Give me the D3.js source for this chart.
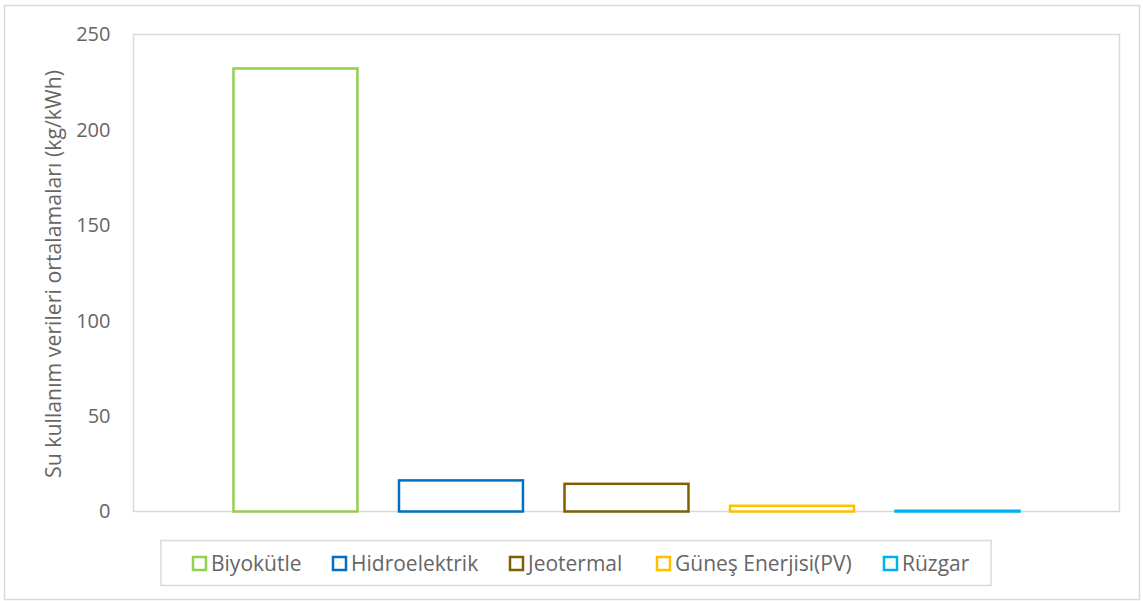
<!DOCTYPE html>
<html>
<head>
<meta charset="utf-8">
<script src="https://cdn.jsdelivr.net/npm/d3@7"></script>
<style>
  html, body { margin: 0; padding: 0; background: #fff; }
  svg { display: block; font-family: "Open Sans", "Lato", sans-serif; }
</style>
</head>
<body>
<svg id="chart" width="1143" height="601"></svg>
<script>
// Average water use per energy source (kg/kWh)
const sources = ["Biyokütle", "Hidroelektrik", "Jeotermal", "Güneş Enerjisi(PV)", "Rüzgar"];
const waterUse = [232.2, 16.3, 14.5, 3.0, 0.4];
const sourceColors = ["#92d050", "#0070c0", "#7f6000", "#ffc000", "#00b0f0"];
const yTicks = [0, 50, 100, 150, 200, 250];
const yTitle = "Su kullanım verileri ortalamaları (kg/kWh)";

const svg = d3.select("#chart");
const plot = { left: 133.5, top: 34.5, right: 1119.5, bottom: 511.5 };
const textColor = "#666666";

// Outer chart frame
svg.append("rect")
  .attr("x", 4.5).attr("y", 5.5)
  .attr("width", 1135).attr("height", 594)
  .attr("fill", "#fff").attr("stroke", "#d9d9d9").attr("stroke-width", 1.5);

// Plot area frame
svg.append("rect")
  .attr("x", plot.left).attr("y", plot.top)
  .attr("width", plot.right - plot.left).attr("height", plot.bottom - plot.top)
  .attr("fill", "none").attr("stroke", "#d9d9d9").attr("stroke-width", 1.5);

const x = d3.scaleBand()
  .domain(sources)
  .range([plot.left, plot.right])
  .paddingInner(0.251)
  .paddingOuter(0.604);

const y = d3.scaleLinear()
  .domain([0, 250])
  .range([plot.bottom, plot.top]);

// Y axis tick labels (no axis line, no ticks)
const yAxis = d3.axisLeft(y).tickValues(yTicks).tickSize(0).tickPadding(0);
const yg = svg.append("g")
  .attr("transform", `translate(${plot.left - 23},0)`)
  .call(yAxis);
yg.select(".domain").remove();
yg.selectAll("text")
  .attr("fill", textColor)
  .style("font-size", "20px")
  .style("font-family", "'Open Sans', sans-serif");

// Y axis title
svg.append("text")
  .attr("transform", `translate(61,${(plot.top + plot.bottom) / 2 + 1}) rotate(-90)`)
  .attr("text-anchor", "middle")
  .attr("fill", textColor)
  .style("font-size", "21.3px")
  .text(yTitle);

// Outlined bars
svg.append("g").selectAll("rect")
  .data(sources)
  .join("rect")
  .attr("x", d => x(d))
  .attr("y", (d, i) => y(waterUse[i]))
  .attr("width", x.bandwidth())
  .attr("height", (d, i) => y(0) - y(waterUse[i]))
  .attr("fill", "none")
  .attr("stroke", (d, i) => sourceColors[i])
  .attr("stroke-width", 2.5);

// Legend
const legend = svg.append("g");
legend.append("rect")
  .attr("x", 161).attr("y", 540.5)
  .attr("width", 830).attr("height", 45)
  .attr("fill", "#fff").attr("stroke", "#d9d9d9").attr("stroke-width", 1.5);

const legendX = [192, 332, 509, 656, 883];
const items = legend.selectAll("g.item")
  .data(sources)
  .join("g")
  .attr("class", "item")
  .attr("transform", (d, i) => `translate(${legendX[i]},556)`);

items.append("rect")
  .attr("x", 1).attr("y", 1)
  .attr("width", 13).attr("height", 13)
  .attr("fill", "#fff")
  .attr("stroke", (d, i) => sourceColors[i])
  .attr("stroke-width", 2.5);

items.append("text")
  .attr("x", 19).attr("y", 14.5)
  .attr("fill", textColor)
  .style("font-size", "21px")
  .text(d => d);
</script>
</body>
</html>
